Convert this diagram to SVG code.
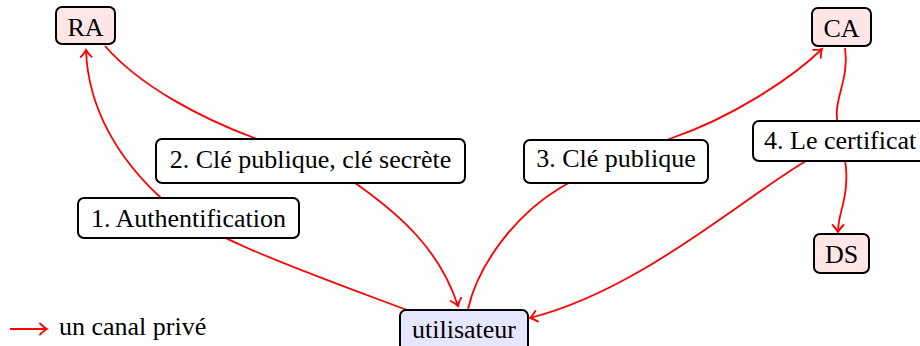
<svg xmlns="http://www.w3.org/2000/svg" width="920" height="346" viewBox="0 0 920 346" font-family="Liberation Serif, Times New Roman, serif">
<defs>
<marker id="arr" markerUnits="userSpaceOnUse" markerWidth="16" markerHeight="16" refX="8" refY="8" orient="auto" viewBox="0 0 16 16">
<path d="M1,2.5 Q5,6.5 8,8 Q5,9.5 1,13.5" fill="none" stroke="#ff0000" stroke-width="1.8" stroke-linecap="round"/>
</marker>
<style>
.box{stroke:#000;stroke-width:2}
.party{fill:#ffe6e6}
.user{fill:#e6e6ff}
.lbl{fill:#fff}
text{font-family:'Liberation Serif','Times New Roman',serif;font-size:26px;fill:#000}
.c{text-anchor:middle}
.e{fill:none;stroke:#ff0000;stroke-width:1.8}
</style>
</defs>
<rect width="920" height="346" fill="#fff"/>
<g id="connectors">
<path class="e" d="M407,310 C300,270 200,235 160,197 C120,160 88,110 86,50" marker-end="url(#arr)"/>
<path class="e" d="M105,46 C140,86 200,118 257,139 C290,151 330,165 358,185 C400,215 440,250 458,306" marker-end="url(#arr)"/>
<path class="e" d="M468,309 C478,265 515,215 560,188 C590,170 630,153 672,138 C730,118 790,80 822,49" marker-end="url(#arr)"/>
<path class="e" d="M845,48 C850,80 832,100 838,125 C842,145 848,165 846,185 C845,205 838,215 838,232" marker-end="url(#arr)"/>
<path class="e" d="M806,161 C740,200 640,290 530,318" marker-end="url(#arr)"/>
<path class="e" d="M10,329 L47,329" marker-end="url(#arr)"/>
</g>
<g id="RA"><rect class="box party" x="56" y="7" width="59" height="37" rx="6"/><text class="c" x="85.5" y="36" font-family="Liberation Serif, serif">RA</text></g>
<g id="CA"><rect class="box party" x="812" y="8" width="59" height="38" rx="6"/><text class="c" x="841.5" y="37" font-family="Liberation Serif, serif">CA</text></g>
<g id="DS"><rect class="box party" x="814" y="234" width="55" height="39" rx="6"/><text class="c" x="841.5" y="263" font-family="Liberation Serif, serif">DS</text></g>
<g id="utilisateur"><rect class="box user" x="400" y="310" width="128" height="44" rx="6"/><text class="c" x="464" y="338" font-family="Liberation Serif, serif">utilisateur</text></g>
<g id="label1"><rect class="box lbl" x="78" y="198" width="221" height="40" rx="6"/><text class="c" x="188.5" y="227" font-family="Liberation Serif, serif">1. Authentification</text></g>
<g id="label2"><rect class="box lbl" x="156" y="139" width="309" height="44" rx="6"/><text class="c" x="310.5" y="168" font-family="Liberation Serif, serif">2. Clé publique, clé secrète</text></g>
<g id="label3"><rect class="box lbl" x="524" y="140" width="184" height="43" rx="6"/><text class="c" x="616" y="167" font-family="Liberation Serif, serif">3. Clé publique</text></g>
<g id="label4"><rect class="box lbl" x="753" y="121" width="190" height="40" rx="6"/><text x="764" y="149" font-family="Liberation Serif, serif">4. Le certificat</text></g>
<g id="legend"><text x="59" y="335" font-family="Liberation Serif, serif">un canal privé</text></g>
</svg>
